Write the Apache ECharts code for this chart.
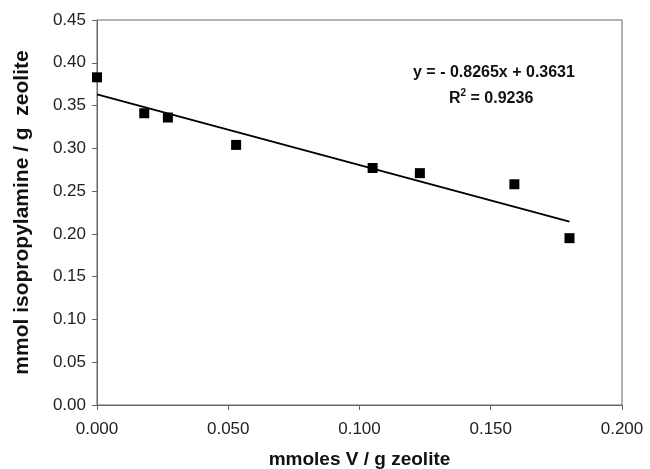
<!DOCTYPE html>
<html>
<head>
<meta charset="utf-8">
<script src="https://cdn.jsdelivr.net/npm/echarts@6/dist/echarts.min.js"></script>
<style>
  html, body { margin: 0; padding: 0; background: #fff; }
  #chart { width: 650px; height: 469px; }
</style>
</head>
<body>
<div id="chart"></div>
<script>
// measured points (mmoles V / g zeolite, mmol isopropylamine / g zeolite)
const vanadium = [0.000, 0.018, 0.027, 0.053, 0.105, 0.123, 0.159, 0.180];
const amine = [0.383, 0.341, 0.336, 0.304, 0.277, 0.271, 0.258, 0.195];

// linear trend line end points
const trendX = [0.000, 0.180];
const trendY = [0.3631, 0.2143];

const equationText = 'y = - 0.8265x + 0.3631';
const rSquaredText = '0.9236';

const font = 'Liberation Sans, Arial, sans-serif';

const chart = echarts.init(document.getElementById('chart'), null, { renderer: 'canvas' });

const option = {
  animation: false,
  backgroundColor: '#fff',
  grid: {
    left: 97, right: 28, top: 20, bottom: 64,
    containLabel: false,
    outerBoundsMode: 'none',
    show: true, borderColor: '#666', borderWidth: 1
  },
  xAxis: {
    type: 'value',
    min: 0, max: 0.2, interval: 0.05,
    name: 'mmoles V / g zeolite',
    nameLocation: 'middle',
    nameGap: 45,
    nameTextStyle: { fontFamily: font, fontWeight: 'bold', fontSize: 19, color: '#111' },
    axisLine: { lineStyle: { color: '#666', width: 1 } },
    axisTick: { show: true, length: 5, lineStyle: { color: '#666' } },
    axisLabel: {
      fontFamily: font, fontSize: 17, color: '#222', margin: 16,
      formatter: v => v.toFixed(3)
    },
    splitLine: { show: false }
  },
  yAxis: {
    type: 'value',
    min: 0, max: 0.45, interval: 0.05,
    name: 'mmol isopropylamine / g  zeolite',
    nameLocation: 'middle',
    nameGap: 64,
    nameTextStyle: { fontFamily: font, fontWeight: 'bold', fontSize: 21, color: '#111' },
    axisLine: { show: true, lineStyle: { color: '#666', width: 1 } },
    axisTick: { show: true, length: 5, lineStyle: { color: '#666' } },
    axisLabel: {
      fontFamily: font, fontSize: 17, color: '#222', margin: 11,
      formatter: v => v.toFixed(2)
    },
    splitLine: { show: false }
  },
  series: [
    {
      type: 'line',
      data: trendX.map((x, i) => [x, trendY[i]]),
      showSymbol: false,
      symbol: 'none',
      lineStyle: { color: '#000', width: 2 },
      z: 2
    },
    {
      type: 'scatter',
      data: vanadium.map((x, i) => [x, amine[i]]),
      symbol: 'rect',
      symbolSize: 10,
      itemStyle: { color: '#000', opacity: 1 },
      z: 3
    }
  ],
  graphic: [
    {
      type: 'text',
      left: 413, top: 65,
      style: {
        text: equationText,
        font: 'bold 16px ' + font,
        fill: '#111'
      }
    },
    {
      type: 'text',
      left: 449, top: 88,
      style: {
        text: '{b|R}{s|2}{b| = ' + rSquaredText + '}',
        rich: {
          b: { font: 'bold 16px ' + font, fill: '#111', verticalAlign: 'bottom' },
          s: { font: 'bold 10px ' + font, fill: '#111', verticalAlign: 'top', padding: [0, 0, 9, 0] }
        }
      }
    }
  ]
};

chart.setOption(option);
</script>
</body>
</html>
